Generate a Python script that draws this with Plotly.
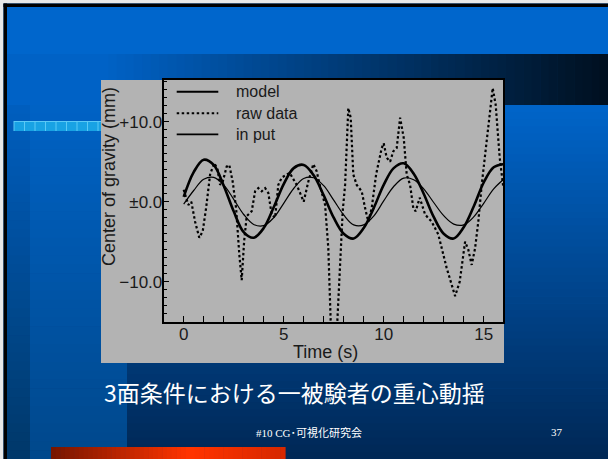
import plotly.graph_objects as go

W, H = 608, 459

# ---------------- data ----------------
time_smooth = [0.0, 0.5, 1.0, 1.5, 2.0, 2.5, 3.0, 3.5, 4.0, 4.5, 5.0, 5.5, 6.0, 6.5, 7.0, 7.5,
               8.0, 8.5, 9.0, 9.5, 10.0, 10.5, 11.0, 11.5, 12.0, 12.5, 13.0, 13.5, 14.0, 14.5,
               15.0, 15.5, 16.0]
model = [0.6, 3.7, 5.25, 4.6, 2.0, -1.2, -3.8, -4.5, -3.3, -0.7, 2.2, 4.2, 4.6, 3.3, 0.8, -2.0,
         -4.0, -4.6, -3.3, -0.8, 2.1, 4.2, 4.8, 3.5, 1.0, -1.9, -4.0, -4.6, -3.2, -0.6,
         2.4, 4.3, 4.7]
input_signal = [-0.3, 1.4, 2.8, 3.05, 2.1, 0.3, -1.6, -2.85, -3.0, -2.0, -0.2, 1.65, 2.9, 3.0, 2.0, 0.2,
                -1.65, -2.9, -2.9, -1.8, 0.1, 1.9, 2.95, 2.75, 1.6, -0.1, -1.75, -2.8, -2.9, -1.9,
                -0.2, 1.6, 2.8]

time_raw = [0.00, 0.12, 0.23, 0.38, 0.57, 0.78, 0.95, 1.12, 1.32, 1.52, 1.68, 1.82, 1.95, 2.15,
            2.28, 2.45, 2.62, 2.78, 2.90, 3.02, 3.15, 3.40, 3.57, 3.73, 3.90, 4.07, 4.23, 4.40,
            4.57, 4.73, 4.90, 5.15, 5.30, 5.65, 5.90, 6.00, 6.23, 6.48, 6.65, 6.80, 7.07, 7.23,
            7.35, 7.52, 7.68, 7.82, 7.95, 8.07, 8.23, 8.35, 8.48, 8.65, 8.90, 9.07, 9.23, 9.40,
            9.62, 9.90, 10.00, 10.15, 10.32, 10.48, 10.65, 10.82, 11.00, 11.15, 11.32, 11.48,
            11.60, 11.80, 12.07, 12.40, 12.73, 13.15, 13.57, 13.80, 14.07, 14.23, 14.40, 14.57,
            14.73, 14.90, 15.15, 15.30, 15.45, 15.60, 15.80, 15.97]
raw_data = [1.5, 0.6, -0.4, 0.0, -2.5, -4.5, -3.7, -0.8, 3.4, 4.8, 4.2, 2.1, 2.5, 4.4,
            4.6, 2.5, -0.8, -6.6, -9.8, -5.0, -1.8, -1.2, 1.3, 1.7, 1.3, 1.7, 1.1, -1.6,
            -2.0, 2.1, 3.0, 3.4, 3.6, 2.1, 0.5, 0.0, 2.5, 4.7, 3.8, 2.1, -0.4, -5.8,
            -15.0, -17.5, -15.0, -7.5, -1.2, 2.1, 11.7, 10.5, 3.4, 2.1, 1.3, -0.8, -2.5, -0.8,
            3.4, 6.7, 7.3, 5.5, 5.0, 6.3, 6.7, 10.5, 8.0, 3.4, 2.1, -0.8,
            -1.2, 0.5, -1.6, -2.5, -4.1, -8.3, -11.8, -10.0, -5.0, -6.0, -7.9, -5.8,
            -2.5, 2.1, 7.5, 10.9, 14.2, 12.1, 5.5, 2.0]

y_tickvals = [-10, 0, 10]
y_ticktext = ["\u221210.0", "\u00b10.0", "+10.0"]
x_tickvals = [0, 5, 10, 15]
legend_names = ["model", "raw data", "in put"]

title_text = "3面条件における一被験者の重心動揺"
footer_text = "#10 CG･可視化研究会"
page_text = "37"

# ---------------- helpers ----------------
def X(px):
    return px / W

def Y(py):
    return 1 - py / H

def rgb(c):
    return "rgb(%d,%d,%d)" % tuple(int(round(v)) for v in c)

def mix(c0, c1, f):
    return tuple(a + (b - a) * f for a, b in zip(c0, c1))

shapes = []

def rect(x0, y0, x1, y1, color):
    shapes.append(dict(type="rect", xref="paper", yref="paper", layer="below",
                       x0=X(x0), x1=X(x1), y0=Y(y1), y1=Y(y0),
                       fillcolor=color, line=dict(width=0)))

def vgrad(x0, x1, y0, y1, c0, c1, n=40):
    step = (y1 - y0) / n
    for i in range(n):
        f = i / (n - 1)
        rect(x0, y0 + i * step, x1, y0 + (i + 1) * step + 0.6, rgb(mix(c0, c1, f)))

def hgrad(x0, x1, y0, y1, c0, c1, n=40):
    step = (x1 - x0) / n
    for i in range(n):
        f = i / (n - 1)
        rect(x0 + i * step, y0, x0 + (i + 1) * step + 0.6, y1, rgb(mix(c0, c1, f)))

# ---------------- slide background ----------------
rect(0, 0, W, H, "rgb(0,102,204)")
vgrad(7, W, 105, H, (0, 100, 200), (0, 40, 86), 50)
vgrad(30, 127, 105, H, (0, 98, 196), (0, 72, 140), 40)
vgrad(7, 30, 105, H, (0, 94, 190), (0, 56, 106), 40)
rect(7, 54, 100, 105, "rgb(0,98,198)")
hgrad(100, W, 54, 105, (0, 98, 198), (0, 16, 32), 60)
rect(0, 0, W, 3.5, "rgb(232,232,232)")
rect(0, 0, 3.5, H, "rgb(232,232,232)")
rect(3.5, 3.5, W, 7, "black")
rect(3.5, 3.5, 7, H, "black")
rect(14, 121, 101, 131, "rgb(24,162,228)")
for k in range(9):
    xx = 14 + k * 10.5
    shapes.append(dict(type="line", xref="paper", yref="paper", layer="below",
                       x0=X(xx), x1=X(xx), y0=Y(131), y1=Y(121),
                       line=dict(color="rgb(90,200,245)", width=1)))
shapes.append(dict(type="line", xref="paper", yref="paper", layer="below",
                   x0=X(14), x1=X(101), y0=Y(121.5), y1=Y(121.5),
                   line=dict(color="rgb(90,200,245)", width=1)))
hgrad(51, 190, 447, H, (120, 22, 0), (255, 52, 0), 30)
hgrad(190, 285, 447, H, (255, 52, 0), (215, 40, 0), 20)
rect(101, 80, 504, 363, "rgb(179,179,179)")

# ---------------- figure ----------------
fig = go.Figure()
fig.add_trace(go.Scatter(x=time_smooth, y=input_signal, mode="lines", name=legend_names[2],
                         line=dict(color="black", width=1.2, shape="spline"), showlegend=False))
fig.add_trace(go.Scatter(x=time_smooth, y=model, mode="lines", name=legend_names[0],
                         line=dict(color="black", width=2.6, shape="spline"), showlegend=False))
fig.add_trace(go.Scatter(x=time_raw, y=raw_data, mode="lines", name=legend_names[1],
                         line=dict(color="black", width=2.2, dash="2.5px,2.5px"), showlegend=False))

leg_rows = [(91.7, 2.0, "solid"), (113.3, 2.0, "2.5px,2.5px"), (134.3, 1.8, "solid")]
annotations = []
for (py, lw, dash), name in zip(leg_rows, legend_names):
    shapes.append(dict(type="line", xref="paper", yref="paper", layer="above",
                       x0=X(176.7), x1=X(218.3), y0=Y(py), y1=Y(py),
                       line=dict(color="black", width=lw, dash=dash)))
    annotations.append(dict(xref="paper", yref="paper", x=X(234), y=Y(py), text=name,
                            showarrow=False, xanchor="left", yanchor="middle",
                            font=dict(family="Liberation Sans", size=16, color="#1a1a1a")))

annotations.append(dict(xref="paper", yref="paper", x=X(325.5), y=Y(351.5), text="Time (s)",
                        showarrow=False, xanchor="center", yanchor="middle",
                        font=dict(family="Liberation Sans", size=18, color="#1a1a1a")))
annotations.append(dict(xref="paper", yref="paper", x=X(108.5), y=Y(176.5),
                        text="Center of gravity (mm)", textangle=-90,
                        showarrow=False, xanchor="center", yanchor="middle",
                        font=dict(family="Liberation Sans", size=18, color="#1a1a1a")))
annotations.append(dict(xref="paper", yref="paper", x=X(102), y=Y(392), text=title_text,
                        showarrow=False, xanchor="left", yanchor="middle",
                        font=dict(family="Noto Sans CJK JP", size=23, color="white")))
annotations.append(dict(xref="paper", yref="paper", x=X(309), y=Y(432), text=footer_text,
                        showarrow=False, xanchor="center", yanchor="middle",
                        font=dict(family="Liberation Serif, Noto Sans CJK JP", size=11, color="white")))
annotations.append(dict(xref="paper", yref="paper", x=X(557), y=Y(432), text=page_text,
                        showarrow=False, xanchor="center", yanchor="middle",
                        font=dict(family="Liberation Serif", size=11, color="white")))

x_left, x_right = 163.5, 503.0
y_top, y_bottom = 80.0, 322.0
x0_px, x_scale = 183.7, 20.0
y0_px, y_scale = 201.7, 8.0

fig.update_layout(
    width=W, height=H,
    margin=dict(l=0, r=0, t=0, b=0),
    paper_bgcolor="rgb(0,102,204)",
    plot_bgcolor="rgba(0,0,0,0)",
    shapes=shapes,
    annotations=annotations,
    showlegend=False,
    xaxis=dict(
        domain=[X(x_left), X(x_right)],
        range=[(x_left - x0_px) / x_scale, (x_right - x0_px) / x_scale],
        tickmode="array", tickvals=x_tickvals,
        ticks="inside", ticklen=6, tickwidth=1.3, tickcolor="black",
        minor=dict(dtick=1, tick0=0, ticks="inside", ticklen=6, tickwidth=1.3, tickcolor="black"),
        showline=True, mirror=True, linecolor="black", linewidth=1.6,
        showgrid=False, zeroline=False,
        ticklabelstandoff=-4,
        tickfont=dict(family="Liberation Sans", size=17, color="#1a1a1a"),
    ),
    yaxis=dict(
        domain=[Y(y_bottom), Y(y_top)],
        range=[(y0_px - y_bottom) / y_scale, (y0_px - y_top) / y_scale],
        tickmode="array", tickvals=y_tickvals, ticktext=y_ticktext,
        ticks="inside", ticklen=6, tickwidth=1.3, tickcolor="black",
        minor=dict(dtick=1, tick0=0, ticks="inside", ticklen=4, tickwidth=1.3, tickcolor="black"),
        showline=True, mirror=True, linecolor="black", linewidth=1.6,
        showgrid=False, zeroline=False,
        ticklabelstandoff=-4,
        tickfont=dict(family="Liberation Sans", size=17, color="#1a1a1a"),
    ),
)

fig.write_html("out.html", config={"displayModeBar": False},
               post_script="document.body.style.margin='0';document.body.style.overflow='hidden';")
